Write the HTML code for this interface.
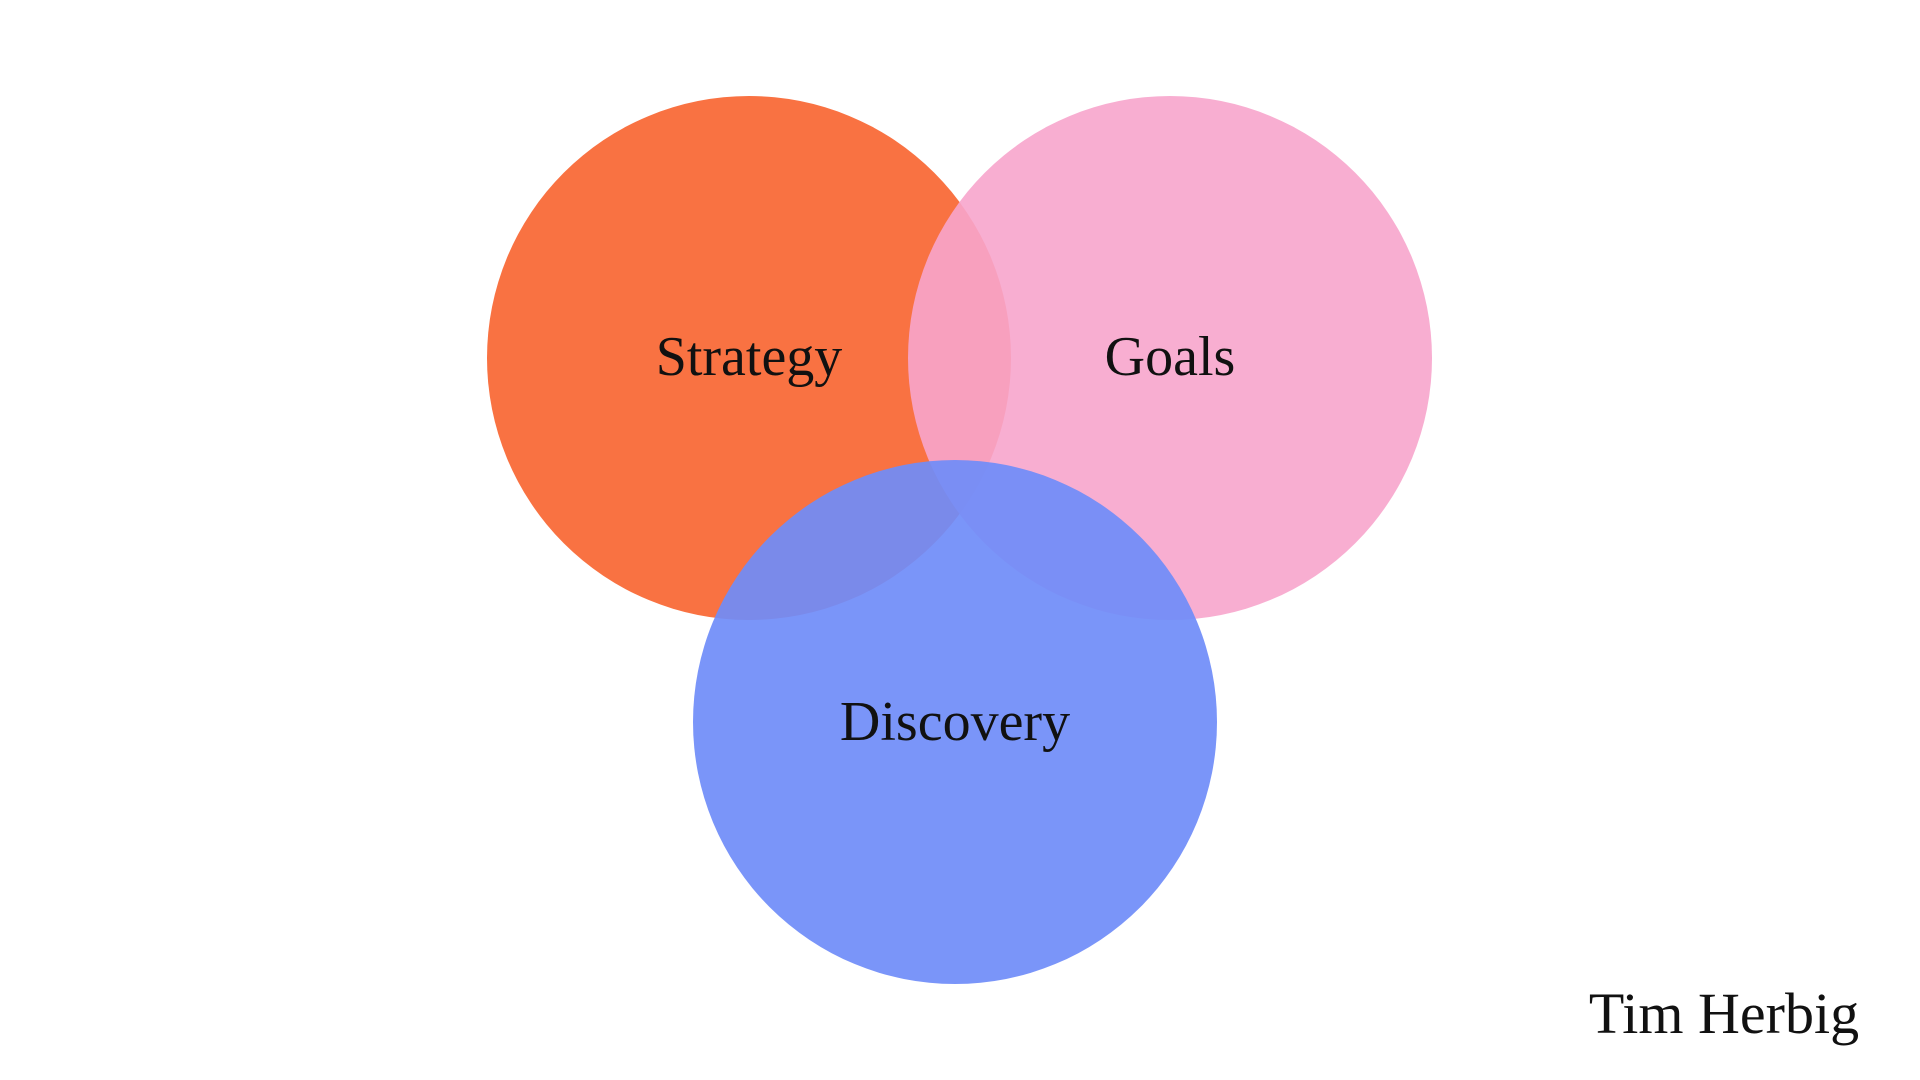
<!DOCTYPE html>
<html><head><meta charset="utf-8"><style>
html,body{margin:0;padding:0;background:#fff;width:1920px;height:1080px;overflow:hidden}
</style></head><body>
<svg width="1920" height="1080" viewBox="0 0 1920 1080" xmlns="http://www.w3.org/2000/svg">
<rect width="1920" height="1080" fill="#fff"/>
<circle cx="749" cy="358" r="262" fill="#f97242"/>
<circle cx="1170" cy="358" r="262" fill="#f7a5cc" fill-opacity="0.9"/>
<circle cx="955" cy="722" r="262" fill="#6f8cf9" fill-opacity="0.92"/>
<g font-family="'Liberation Serif', serif" fill="#111" text-anchor="middle" font-size="56">
<text x="749" y="375">Strategy</text>
<text x="1170" y="375">Goals</text>
<text x="955" y="740">Discovery</text>
<text x="1724" y="1033" font-size="58">Tim Herbig</text>
</g>
</svg>
</body></html>
